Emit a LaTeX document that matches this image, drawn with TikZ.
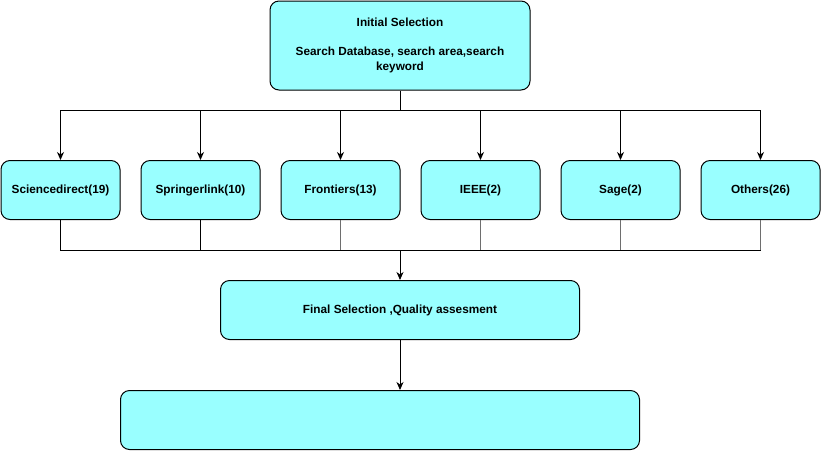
\documentclass[tikz,border=0pt]{standalone}
\usepackage{fontspec}
\setmainfont{Liberation Sans}
\usetikzlibrary{arrows.meta}
\definecolor{boxfill}{HTML}{99FFFF}
\definecolor{graylink}{HTML}{6E6E6E}
\tikzset{
  box/.style={draw=black, fill=boxfill, rounded corners=9pt, line width=1pt, inner sep=0pt, align=center,
    font=\fontsize{11.8}{15}\selectfont\bfseries},
  link/.style={line width=1pt, draw=black},
  glink/.style={line width=1.2pt, draw=graylink},
  arr/.style={-{Stealth[length=8pt,width=7pt,inset=2.5pt]}}
}
\begin{document}
\begin{tikzpicture}[x=1pt,y=-1pt]
\useasboundingbox (0,0) rectangle (821,451);
\node[box, minimum width=260pt, minimum height=89pt] (top) at (400,45.5)
  {Initial Selection\\[14pt]Search Database, search area,search\\keyword};
\node[box, minimum width=119pt, minimum height=59pt] (b1) at (60.5,190) {Sciencedirect(19)};
\node[box, minimum width=119pt, minimum height=59pt] (b2) at (200.5,190) {Springerlink(10)};
\node[box, minimum width=119pt, minimum height=59pt] (b3) at (340.5,190) {Frontiers(13)};
\node[box, minimum width=119pt, minimum height=59pt] (b4) at (480.5,190) {IEEE(2)};
\node[box, minimum width=119pt, minimum height=59pt] (b5) at (620.5,190) {Sage(2)};
\node[box, minimum width=119pt, minimum height=59pt] (b6) at (760.5,190) {Others(26)};
\node[box, minimum width=359pt, minimum height=59pt] (fin) at (400,310) {Final Selection ,Quality assesment};
\node[box, minimum width=519pt, minimum height=59pt] (last) at (380,420) {};
\coordinate (split) at (400,110);
\coordinate (bus) at (400,250);
\draw[link] (top.south) -- (split);
\foreach \b in {b1,b2,b3,b4,b5,b6}{
  \draw[link, arr] (split) -| (\b.north);
}
\draw[link] (b1.south) |- (bus);
\draw[link] (b2.south) |- (bus);
\draw[glink] (b3.south) -- (b3.south |- bus);
\draw[glink] (b4.south) -- (b4.south |- bus);
\draw[glink] (b5.south) -- (b5.south |- bus);
\draw[glink] (b6.south) -- (b6.south |- bus);
\draw[link] (b6.south |- bus) -- (bus);
\draw[link, arr] (bus) -- (fin.north);
\draw[link, arr] (fin.south) -- (fin.south |- last.north);
\end{tikzpicture}
\end{document}
